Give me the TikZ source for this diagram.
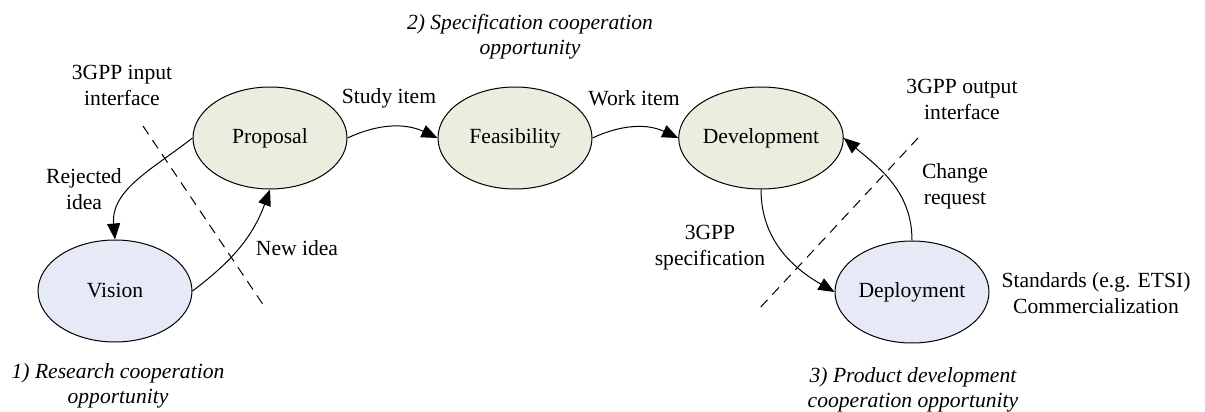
\documentclass[tikz,border=0pt]{standalone}
\usepackage{fontspec}
\setmainfont{Liberation Serif}
\usetikzlibrary{shapes,arrows.meta,calc}
\definecolor{specgreen}{HTML}{EBEDDE}
\definecolor{deplblue}{HTML}{E5EAF6}

\begin{document}
\begin{tikzpicture}[x=0.5pt,y=-0.5pt,
  every node/.style={font=\fontsize{10.8}{13}\selectfont,align=center},
  phase/.style={ellipse,draw,line width=0.5pt,minimum width=77pt,minimum height=51pt,inner sep=0pt},
  flow/.style={-{Triangle[length=8pt,width=6.5pt]},line width=0.5pt},
  border/.style={dashed,line width=0.5pt,dash pattern=on 5pt off 3.5pt},
  note/.style={font=\fontsize{10.8}{12.5}\selectfont\itshape}]
\useasboundingbox (0,0) rectangle (1205,412);

\node[phase,fill=specgreen] (prop) at (270,138) {Proposal};
\node[phase,fill=specgreen] (feas) at (515,138) {Feasibility};
\node[phase,fill=specgreen] (dev) at (761,138) {Development};
\node[phase,fill=deplblue] (vis) at (115,291) {Vision};
\node[phase,fill=deplblue] (depl) at (912,292) {Deployment};

\draw[border] (143,126) -- (264,306);
\draw[border] (918,138) -- (758,310);

\draw[flow] (prop.west) to[out=218,in=95] (vis.north);
\draw[flow] (vis.east) to[out=37,in=250] (prop.south);
\draw[flow] (prop.east) to[out=25,in=155] (feas.west);
\draw[flow] (feas.east) to[out=25,in=155] (dev.west);
\draw[flow] (dev.south) to[out=-90,in=150] (depl.west);
\draw[flow] (depl.north) to[out=90,in=-40] (dev.east);

\node (inif) at (122,85) {3GPP input\\interface};
\node (rej) at (84,189) {Rejected\\idea};
\node (new) at (297,248) {New idea};
\node (study) at (389,98) {Study item};
\node (work) at (634,98) {Work item};
\node (outif) at (962,99) {3GPP output\\interface};
\node (chg) at (955,186) {Change\\request};
\node (spec) at (710,248) {3GPP\\specification};
\node (std) at (1096,293) {Standards (e.g. ETSI)\\Commercialization};
\node[note] (opp1) at (118,386) {1) Research cooperation\\opportunity};
\node[note] (opp2) at (530,37) {2) Specification cooperation\\opportunity};
\node[note] (opp3) at (913,390) {3) Product development\\cooperation opportunity};
\end{tikzpicture}
\end{document}
